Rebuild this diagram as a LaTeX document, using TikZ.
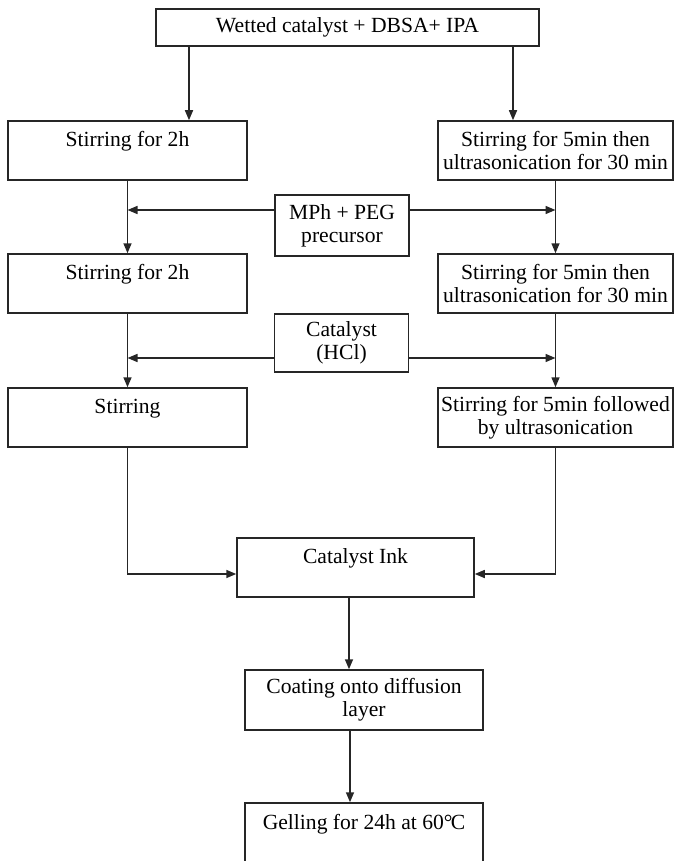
\documentclass[tikz,border=0pt]{standalone}
\usepackage{fontspec}
\setmainfont{Liberation Serif}
\usetikzlibrary{arrows.meta}

\tikzset{
  stepbox/.style={draw=black!85, line width=0.75pt, align=center, inner sep=1pt,
    minimum width=119.5pt, minimum height=29.5pt,
    font=\fontsize{10.8}{11.6}\selectfont},
  addbox/.style={stepbox, minimum width=67pt, minimum height=30pt},
  flow/.style={draw=black!85, line width=0.75pt, -{Triangle[length=5pt,width=4pt]}}
}

\begin{document}
\begin{tikzpicture}[x=0.5pt, y=-0.5pt]
  \useasboundingbox (0,0) rectangle (677,861);

  % start
  \node[stepbox, minimum width=191.5pt, minimum height=18.5pt] (start) at (347.5,27.5) {Wetted catalyst + DBSA+ IPA};

  % left and right routes
  \node[stepbox] (L1) at (127.5,150.5) {Stirring for 2h\\\mbox{}};
  \node[stepbox, minimum width=117.5pt] (R1) at (555.5,150.5) {Stirring for 5min then\\ultrasonication for 30 min};
  \node[stepbox] (L2) at (127.5,283.5) {Stirring for 2h\\\mbox{}};
  \node[stepbox, minimum width=117.5pt] (R2) at (555.5,283.5) {Stirring for 5min then\\ultrasonication for 30 min};
  \node[stepbox] (L3) at (127.5,417.5) {Stirring\\\mbox{}};
  \node[stepbox, minimum width=117.5pt] (R3) at (555.5,417.5) {Stirring for 5min followed\\by ultrasonication};

  % additions
  \node[addbox, minimum height=30.5pt] (mph) at (342,225.5) {MPh + PEG\\precursor};
  \node[addbox, minimum height=29pt] (hcl) at (341.5,343) {Catalyst\\(HCl)};

  % ink and coating
  \node[stepbox, minimum width=118.5pt] (ink) at (355.5,567.5) {Catalyst Ink\\\mbox{}};
  \node[stepbox, minimum width=119pt, minimum height=30pt] (coat) at (364,700) {Coating onto diffusion\\layer};
  \node[stepbox, minimum width=119pt, minimum height=30pt] (gel) at (364,833) {Gelling for 24h at 60\textdegree\kern-0.08em C\\\mbox{}};

  \draw[flow] (start.south -| 189,0) -- (189,0 |- L1.north);
  \draw[flow] (start.south -| 513,0) -- (513,0 |- R1.north);

  \foreach \a/\b in {L1/L2, L2/L3, R1/R2, R2/R3}
    \draw[flow] (\a.south) -- (\b.north);

  \draw[flow] ([yshift=7.75pt]mph.west) -- ([yshift=7.75pt]mph.west -| L1.south);
  \draw[flow] ([yshift=7.75pt]mph.east) -- ([yshift=7.75pt]mph.east -| R1.south);
  \draw[flow] ([yshift=-7.5pt]hcl.west) -- ([yshift=-7.5pt]hcl.west -| L2.south);
  \draw[flow] ([yshift=-7.5pt]hcl.east) -- ([yshift=-7.5pt]hcl.east -| R2.south);

  \draw[flow] (L3.south) |- ([yshift=-3.25pt]ink.west);
  \draw[flow] (R3.south) |- ([yshift=-3.25pt]ink.east);

  \draw[flow] ([xshift=-3.25pt]ink.south) -- ([xshift=-3.25pt]ink.south |- coat.north);
  \draw[flow] ([xshift=-7pt]coat.south) -- ([xshift=-7pt]coat.south |- gel.north);
\end{tikzpicture}
\end{document}
